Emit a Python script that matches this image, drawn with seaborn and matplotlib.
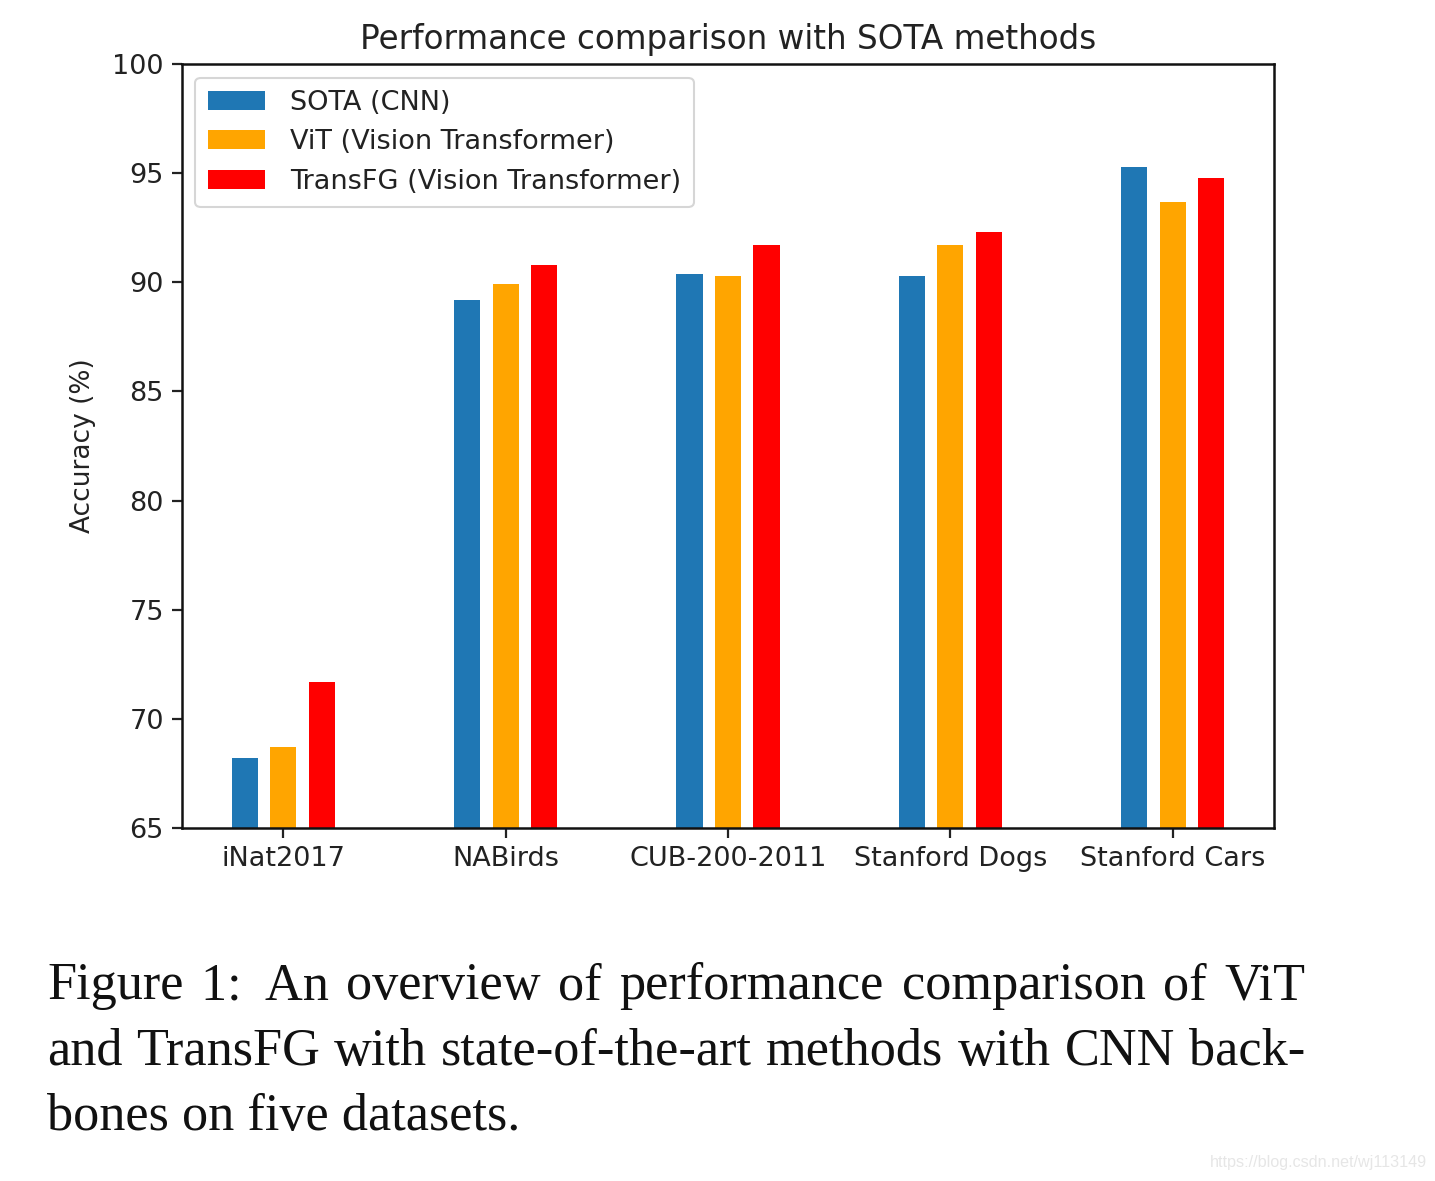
import matplotlib
matplotlib.use("Agg")
import matplotlib.pyplot as plt
import seaborn as sns
import pandas as pd

datasets = ["iNat2017", "NABirds", "CUB-200-2011", "Stanford Dogs", "Stanford Cars"]
methods = ["SOTA (CNN)", "ViT (Vision Transformer)", "TransFG (Vision Transformer)"]
sota = [68.2, 89.2, 90.4, 90.3, 95.3]
vit = [68.7, 89.9, 90.3, 91.7, 93.7]
transfg = [71.7, 90.8, 91.7, 92.3, 94.8]
colors = ["#1f77b4", "#ffa500", "#ff0000"]
yticks = [65, 70, 75, 80, 85, 90, 95, 100]

rows = []
for m, vals in zip(methods, [sota, vit, transfg]):
    for d, v in zip(datasets, vals):
        rows.append({"dataset": d, "acc": v, "method": m})
df = pd.DataFrame(rows)

plt.rcParams['font.family'] = ['DejaVu Sans']
W, H = 1435, 1181
fig = plt.figure(figsize=(W / 100, H / 100), dpi=100)
ax = fig.add_axes([0.1268, 0.2989, 0.761, 0.6469])

sns.barplot(data=df, x="dataset", y="acc", hue="method", order=datasets,
            hue_order=methods, palette=colors, width=0.52, gap=0.32,
            ax=ax, saturation=1, linewidth=0, edgecolor="none")

ax.set_ylim(65, 100)
ax.set_yticks(yticks)
ax.set_xlim(-0.456, 4.456)
ax.set_xlabel("")
ax.set_ylabel("Accuracy (%)", fontsize=19, color="#222222", labelpad=12)
ax.set_title("Performance comparison with SOTA methods", fontsize=23.5, color="#222222", pad=10.5)
ax.tick_params(axis="both", labelsize=19.5, length=7, width=1.6, colors="#222222", pad=6)
for s in ax.spines.values():
    s.set_linewidth(1.8)
    s.set_color("#111111")

leg = ax.legend(loc="upper left", fontsize=19.5, frameon=True, handlelength=2.1,
                handleheight=0.7, borderpad=0.45, labelspacing=0.5,
                handletextpad=0.95, borderaxespad=0.5)
leg.get_frame().set_linewidth(1.5)
for t in leg.get_texts():
    t.set_color("#222222")

caption = ["Figure 1:  An overview of performance comparison of ViT",
           "and TransFG with state-of-the-art methods with CNN back-",
           "bones on five datasets."]
justify = [True, True, False]
baselines = [999, 1064.5, 1130]
x0, x1 = 47, 1305
cap_fs = 37.6
renderer = fig.canvas.get_renderer()
for i, line in enumerate(caption):
    y = 1 - baselines[i] / H
    if not justify[i]:
        fig.text(x0 / W, y, line, fontsize=cap_fs, family="Liberation Serif",
                 va="baseline", ha="left", color="#111111")
        continue
    words = line.replace("1:  ", "1:\u0000").split(" ")
    words = [w.replace("\u0000", "  ") for w in words]
    texts = []
    widths = []
    for w in words:
        t = fig.text(0, y, w, fontsize=cap_fs, family="Liberation Serif",
                     va="baseline", ha="left", color="#111111")
        widths.append(t.get_window_extent(renderer).width)
        texts.append(t)
    gap = (x1 - x0 - sum(widths)) / (len(words) - 1)
    x = x0
    for t, wd in zip(texts, widths):
        t.set_x(x / W)
        x += wd + gap

fig.text(1427 / W, 1 - 1163 / H, "https://blog.csdn.net/wj113149",
         fontsize=11.6, family="Liberation Sans", color="#e6e6e6", ha="right", va="center")

fig.savefig("out.png", dpi=100)
